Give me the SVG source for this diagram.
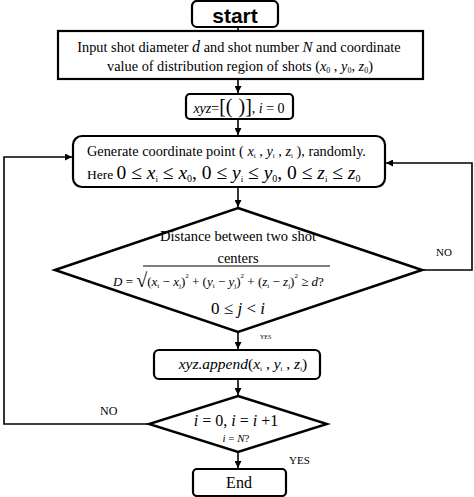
<svg xmlns="http://www.w3.org/2000/svg" width="474" height="497" viewBox="0 0 474 497">
<style>
.box{fill:#fff;stroke:#000;stroke-width:2.2}
.ln{fill:none;stroke:#000;stroke-width:1.6}
.t{font-family:"Liberation Serif","Times New Roman",serif;fill:#000}
.i{font-style:italic}
</style>
<defs>
<marker id="ah" viewBox="0 0 10 10" refX="10" refY="5" markerWidth="7" markerHeight="7" markerUnits="userSpaceOnUse" orient="auto">
<path d="M0,0 L10,5 L0,10 z" fill="#000"/>
</marker>
</defs>
<rect width="474" height="497" fill="#fff"/>
<g id="connectors">
<line class="ln" x1="238" y1="27" x2="238" y2="31" />
<line class="ln" x1="238" y1="79" x2="238" y2="93" marker-end="url(#ah)"/>
<line class="ln" x1="238" y1="119" x2="238" y2="135" marker-end="url(#ah)"/>
<line class="ln" x1="238" y1="187" x2="238" y2="207" marker-end="url(#ah)"/>
<line class="ln" x1="238" y1="332" x2="238" y2="349" marker-end="url(#ah)"/>
<line class="ln" x1="238" y1="379" x2="238" y2="395" marker-end="url(#ah)"/>
<line class="ln" x1="238" y1="452" x2="238" y2="468" marker-end="url(#ah)"/>
<polyline class="ln" points="149,424 4,424 4,157 72,157" marker-end="url(#ah)"/>
<polyline class="ln" points="422,270 472,270 472,163 386,163" marker-end="url(#ah)"/>
<text class="t" x="436" y="256" font-size="11">NO</text>
<text class="t" x="100" y="415" font-size="12">NO</text>
<text class="t" x="289" y="464" font-size="11">YES</text>
<text class="t" x="260" y="339" font-size="6">YES</text>
</g>
<g id="start">
<rect class="box" x="192" y="1" width="86" height="26" rx="5"/>
<text x="235" y="23" text-anchor="middle" font-family="Liberation Sans,Arial,sans-serif" font-weight="bold" font-size="21">start</text>
</g>
<g id="input">
<rect class="box" x="58" y="31" width="365" height="48"/>
<text class="t" x="239" y="52" text-anchor="middle" font-size="14.3">Input shot diameter <tspan class="i" font-size="16">d</tspan> and shot number <tspan class="i" font-size="15">N</tspan>  and coordinate</text>
<text class="t" x="240" y="71" text-anchor="middle" font-size="14.3">value of distribution region of shots (<tspan class="i">x</tspan><tspan font-size="8" dy="2">0</tspan><tspan dy="-2"> , </tspan><tspan class="i">y</tspan><tspan font-size="8" dy="2">0</tspan><tspan dy="-2">, </tspan><tspan class="i">z</tspan><tspan font-size="8" dy="2">0</tspan><tspan dy="-2">)</tspan></text>
</g>
<g id="init">
<rect class="box" x="186" y="94" width="107" height="25" rx="4"/>
<text class="t" x="239" y="113" text-anchor="middle" font-size="14"><tspan class="i">xyz</tspan>=<tspan font-size="20">[(</tspan><tspan font-size="20" dx="6">)]</tspan>, <tspan class="i">i</tspan> = 0</text>
</g>
<g id="generate">
<rect class="box" x="73" y="136" width="312" height="51" rx="9"/>
<text class="t" x="87" y="156" font-size="14.3">Generate coordinate point ( <tspan class="i">x</tspan><tspan font-size="7" dy="2">i</tspan><tspan dy="-2"> , </tspan><tspan class="i">y</tspan><tspan font-size="7" dy="2">i</tspan><tspan dy="-2"> , </tspan><tspan class="i">z</tspan><tspan font-size="7" dy="2">i</tspan><tspan dy="-2"> ),   randomly.</tspan></text>
<text class="t" x="87" y="179" font-size="13.5">Here <tspan font-size="19.5">0 ≤ <tspan class="i">x</tspan><tspan font-size="9" dy="3">i</tspan><tspan dy="-3"> ≤ </tspan><tspan class="i">x</tspan><tspan font-size="10" dy="3">0</tspan><tspan dy="-3">, 0 ≤ </tspan><tspan class="i">y</tspan><tspan font-size="9" dy="3">i</tspan><tspan dy="-3"> ≤ </tspan><tspan class="i">y</tspan><tspan font-size="10" dy="3">0</tspan><tspan dy="-3">, 0 ≤ </tspan><tspan class="i">z</tspan><tspan font-size="9" dy="3">i</tspan><tspan dy="-3"> ≤ </tspan><tspan class="i">z</tspan><tspan font-size="10" dy="3">0</tspan></tspan></text>
</g>
<g id="distance">
<polygon points="238,208 422,270 238,332 55,270" fill="#fff" stroke="#000" stroke-width="2.6" stroke-linejoin="miter"/>
<text class="t" x="238" y="241" text-anchor="middle" font-size="14.5">Distance between two shot</text>
<text class="t" x="238" y="263" text-anchor="middle" font-size="14.5">centers</text>
<line x1="143" y1="266" x2="330" y2="266" stroke="#000" stroke-width="1"/>
<text class="t" x="113" y="286" font-size="13"><tspan class="i">D</tspan> = <tspan font-size="20" dy="1">√</tspan><tspan dy="-1">(</tspan><tspan class="i">x</tspan><tspan font-size="7" dy="2">i</tspan><tspan dy="-2"> − </tspan><tspan class="i">x</tspan><tspan font-size="7" dy="2">j</tspan><tspan dy="-2">)</tspan><tspan font-size="7" dy="-8">2</tspan><tspan dy="8"> + (</tspan><tspan class="i">y</tspan><tspan font-size="7" dy="2">i</tspan><tspan dy="-2"> − </tspan><tspan class="i">y</tspan><tspan font-size="7" dy="2">j</tspan><tspan dy="-2">)</tspan><tspan font-size="7" dy="-8">2</tspan><tspan dy="8"> + (</tspan><tspan class="i">z</tspan><tspan font-size="7" dy="2">i</tspan><tspan dy="-2"> − </tspan><tspan class="i">z</tspan><tspan font-size="7" dy="2">j</tspan><tspan dy="-2">)</tspan><tspan font-size="7" dy="-8">2</tspan><tspan dy="8"> ≥ </tspan><tspan class="i">d</tspan>?</text>
<text class="t" x="238" y="314" text-anchor="middle" font-size="17">0 ≤ <tspan class="i">j</tspan> &lt; <tspan class="i">i</tspan></text>
</g>
<g id="append">
<rect class="box" x="154" y="350" width="166" height="29" rx="5"/>
<text class="t" x="243" y="369" text-anchor="middle" font-size="15.5"><tspan class="i">xyz.append</tspan>(<tspan class="i">x</tspan><tspan font-size="7" dy="2">i</tspan><tspan dy="-2"> , </tspan><tspan class="i">y</tspan><tspan font-size="7" dy="2">i</tspan><tspan dy="-2"> , </tspan><tspan class="i">z</tspan><tspan font-size="7" dy="2">i</tspan><tspan dy="-2">)</tspan></text>
</g>
<g id="check">
<polygon points="238,396 327,424 238,452 149,424" fill="#fff" stroke="#000" stroke-width="2.4"/>
<text class="t" x="236" y="426" text-anchor="middle" font-size="16"><tspan class="i">i</tspan> = 0, <tspan class="i">i</tspan> = <tspan class="i">i</tspan> +1</text>
<text class="t" x="236" y="442" text-anchor="middle" font-size="11"><tspan class="i">i</tspan> = <tspan class="i">N</tspan>?</text>
</g>
<g id="end">
<rect class="box" x="193" y="469" width="93" height="27" rx="4"/>
<text class="t" x="239" y="488" text-anchor="middle" font-size="16">End</text>
</g>
</svg>
